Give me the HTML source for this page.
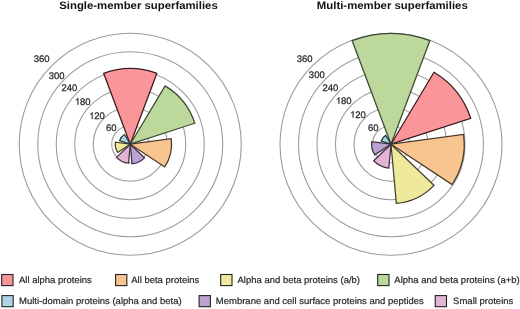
<!DOCTYPE html>
<html><head><meta charset="utf-8"><style>
html,body{margin:0;padding:0;background:#fff;width:520px;height:309px;overflow:hidden}
svg{display:block}
#wrap{width:520px;height:309px;will-change:transform}
text{font-family:"Liberation Sans",sans-serif;text-rendering:geometricPrecision}
.lab{font-size:9.5px;fill:#262626;stroke:#262626;stroke-width:0.25px}
.leg{font-size:9.5px;fill:#262626;stroke:#262626;stroke-width:0.2px}
.ttl{font-size:11.37px;font-weight:bold;fill:#111}
</style></head><body>
<div id="wrap">
<svg width="520" height="309" viewBox="0 0 520 309">
<rect width="520" height="309" fill="#fff"/>
<text transform="translate(59.25,8.8) scale(1,0.95)" class="ttl">Single-member superfamilies</text>
<text transform="translate(316.85,8.8) scale(1,0.95)" class="ttl">Multi-member superfamilies</text>
<circle cx="130.25" cy="144.2" r="18.50" fill="none" stroke="#9c9c9c" stroke-width="1.1"/>
<circle cx="130.25" cy="144.2" r="37.00" fill="none" stroke="#9c9c9c" stroke-width="1.1"/>
<circle cx="130.25" cy="144.2" r="55.50" fill="none" stroke="#9c9c9c" stroke-width="1.1"/>
<circle cx="130.25" cy="144.2" r="74.00" fill="none" stroke="#9c9c9c" stroke-width="1.1"/>
<circle cx="130.25" cy="144.2" r="92.50" fill="none" stroke="#9c9c9c" stroke-width="1.1"/>
<circle cx="130.25" cy="144.2" r="111.00" fill="none" stroke="#9c9c9c" stroke-width="1.1"/>
<circle cx="391.0" cy="144.2" r="18.50" fill="none" stroke="#9c9c9c" stroke-width="1.1"/>
<circle cx="391.0" cy="144.2" r="37.00" fill="none" stroke="#9c9c9c" stroke-width="1.1"/>
<circle cx="391.0" cy="144.2" r="55.50" fill="none" stroke="#9c9c9c" stroke-width="1.1"/>
<circle cx="391.0" cy="144.2" r="74.00" fill="none" stroke="#9c9c9c" stroke-width="1.1"/>
<circle cx="391.0" cy="144.2" r="92.50" fill="none" stroke="#9c9c9c" stroke-width="1.1"/>
<circle cx="391.0" cy="144.2" r="111.00" fill="none" stroke="#9c9c9c" stroke-width="1.1"/>
<path d="M130.25,144.20L103.65,73.33A75.70,75.70 0 0 1 156.85,73.33Z" fill="#fa9699" stroke="#3a1c1e" stroke-width="1.25" stroke-linejoin="miter"/>
<path d="M130.25,144.20L165.08,85.91A67.90,67.90 0 0 1 194.83,123.22Z" fill="#bcd89a" stroke="#3c4834" stroke-width="1.25" stroke-linejoin="miter"/>
<path d="M130.25,144.20L171.18,138.66A41.30,41.30 0 0 1 164.72,166.95Z" fill="#f8c490" stroke="#45362a" stroke-width="1.25" stroke-linejoin="miter"/>
<path d="M130.25,144.20L144.49,157.81A19.70,19.70 0 0 1 132.02,163.82Z" fill="#bca2d2" stroke="#383042" stroke-width="1.25" stroke-linejoin="miter"/>
<path d="M130.25,144.20L128.54,163.22A19.10,19.10 0 0 1 116.44,157.40Z" fill="#e4b4d6" stroke="#42323e" stroke-width="1.25" stroke-linejoin="miter"/>
<path d="M130.25,144.20L117.73,152.46A15.00,15.00 0 0 1 115.39,142.19Z" fill="#efe99c" stroke="#42402a" stroke-width="1.25" stroke-linejoin="miter"/>
<path d="M130.25,144.20L119.50,140.71A11.30,11.30 0 0 1 124.45,134.50Z" fill="#aed5e3" stroke="#2c3a42" stroke-width="1.25" stroke-linejoin="miter"/>
<path d="M391.00,144.20L352.11,40.56A110.70,110.70 0 0 1 429.89,40.56Z" fill="#bcd89a" stroke="#3c4834" stroke-width="1.25" stroke-linejoin="miter"/>
<path d="M391.00,144.20L433.98,72.26A83.80,83.80 0 0 1 470.70,118.30Z" fill="#fa9699" stroke="#3a1c1e" stroke-width="1.25" stroke-linejoin="miter"/>
<path d="M391.00,144.20L463.54,134.38A73.20,73.20 0 0 1 452.09,184.52Z" fill="#f8c490" stroke="#45362a" stroke-width="1.25" stroke-linejoin="miter"/>
<path d="M391.00,144.20L434.01,185.32A59.50,59.50 0 0 1 396.34,203.46Z" fill="#efe99c" stroke="#42402a" stroke-width="1.25" stroke-linejoin="miter"/>
<path d="M391.00,144.20L388.85,168.10A24.00,24.00 0 0 1 373.65,160.79Z" fill="#e4b4d6" stroke="#42323e" stroke-width="1.25" stroke-linejoin="miter"/>
<path d="M391.00,144.20L374.81,154.89A19.40,19.40 0 0 1 371.78,141.60Z" fill="#bca2d2" stroke="#383042" stroke-width="1.25" stroke-linejoin="miter"/>
<path d="M391.00,144.20L381.20,141.02A10.30,10.30 0 0 1 385.72,135.36Z" fill="#aed5e3" stroke="#2c3a42" stroke-width="1.25" stroke-linejoin="miter"/>
<text transform="translate(33.76,62.10) scale(1,1.0)" class="lab">360</text>
<text transform="translate(48.76,78.55) scale(1,1.0)" class="lab">300</text>
<text transform="translate(61.46,91.10) scale(1,1.0)" class="lab">240</text>
<path d="M763 0H583V1147Q518 1085 412 1023Q307 961 223 930V1104Q374 1175 487 1276Q600 1377 647 1472H763Z" fill="#262626" stroke="#262626" stroke-width="53.9" transform="translate(74.80,104.65) scale(0.00464,-0.00446)"/>
<text transform="translate(80.08,104.65) scale(1,1.0)" class="lab">80</text>
<path d="M763 0H583V1147Q518 1085 412 1023Q307 961 223 930V1104Q374 1175 487 1276Q600 1377 647 1472H763Z" fill="#262626" stroke="#262626" stroke-width="53.9" transform="translate(89.06,118.90) scale(0.00464,-0.00446)"/>
<text transform="translate(94.34,118.90) scale(1,1.0)" class="lab">20</text>
<text transform="translate(105.95,130.70) scale(1,1.0)" class="lab">60</text>
<text transform="translate(296.76,62.10) scale(1,1.0)" class="lab">360</text>
<text transform="translate(308.86,77.70) scale(1,1.0)" class="lab">300</text>
<text transform="translate(322.46,91.10) scale(1,1.0)" class="lab">240</text>
<path d="M763 0H583V1147Q518 1085 412 1023Q307 961 223 930V1104Q374 1175 487 1276Q600 1377 647 1472H763Z" fill="#262626" stroke="#262626" stroke-width="53.9" transform="translate(335.80,103.85) scale(0.00464,-0.00446)"/>
<text transform="translate(341.08,103.85) scale(1,1.0)" class="lab">80</text>
<path d="M763 0H583V1147Q518 1085 412 1023Q307 961 223 930V1104Q374 1175 487 1276Q600 1377 647 1472H763Z" fill="#262626" stroke="#262626" stroke-width="53.9" transform="translate(349.96,117.60) scale(0.00464,-0.00446)"/>
<text transform="translate(355.24,117.60) scale(1,1.0)" class="lab">20</text>
<text transform="translate(367.90,130.70) scale(1,1.0)" class="lab">60</text>
<rect x="1.70" y="274.50" width="11.3" height="11.1" fill="#fa9699" stroke="#222" stroke-width="1.1"/>
<text transform="translate(18.95,282.50) scale(1,0.97)" class="leg">All alpha proteins</text>
<rect x="115.55" y="274.50" width="11.3" height="11.1" fill="#f8c490" stroke="#222" stroke-width="1.1"/>
<text transform="translate(131.20,282.50) scale(1,0.97)" class="leg">All beta proteins</text>
<rect x="220.70" y="274.50" width="11.3" height="11.1" fill="#efe99c" stroke="#222" stroke-width="1.1"/>
<text transform="translate(237.50,282.50) scale(1,0.97)" class="leg">Alpha and beta proteins (a/b)</text>
<rect x="377.70" y="274.50" width="11.3" height="11.1" fill="#bcd89a" stroke="#222" stroke-width="1.1"/>
<text transform="translate(394.30,282.50) scale(1,0.97)" class="leg">Alpha and beta proteins (a+b)</text>
<rect x="1.90" y="295.60" width="11.3" height="11.1" fill="#aed5e3" stroke="#222" stroke-width="1.1"/>
<text transform="translate(19.00,303.70) scale(1,0.97)" class="leg">Multi-domain proteins (alpha and beta)</text>
<rect x="199.10" y="295.60" width="11.3" height="11.1" fill="#bca2d2" stroke="#222" stroke-width="1.1"/>
<text transform="translate(215.80,303.70) scale(1,0.97)" class="leg">Membrane and cell surface proteins and peptides</text>
<rect x="435.20" y="295.60" width="11.3" height="11.1" fill="#e4b4d6" stroke="#222" stroke-width="1.1"/>
<text transform="translate(453.10,303.70) scale(1,0.97)" class="leg">Small proteins</text>
</svg>
</div>
</body></html>
